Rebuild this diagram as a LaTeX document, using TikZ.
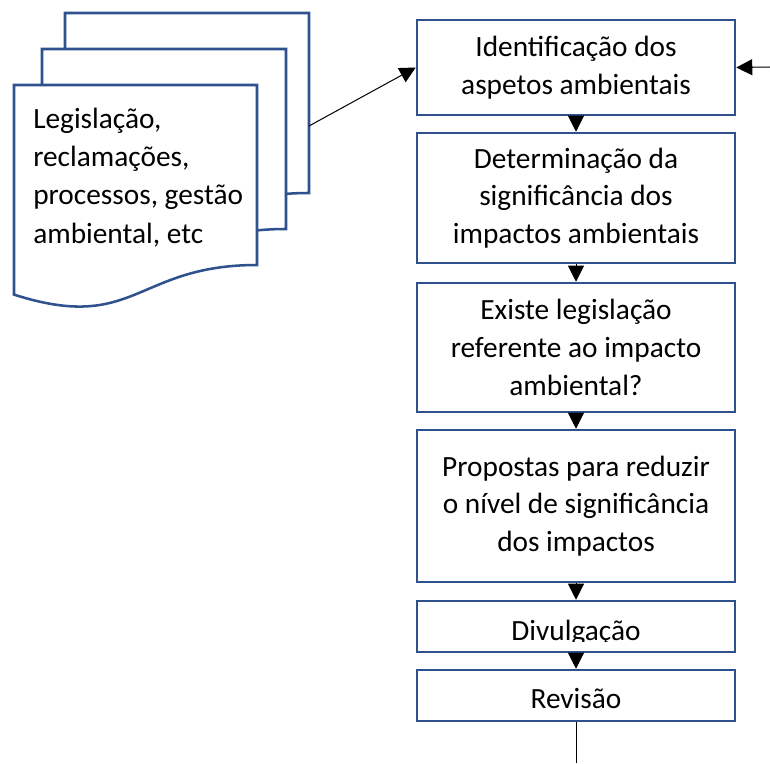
\documentclass[tikz,border=0pt]{standalone}
\usepackage{fontspec}
\setmainfont{Carlito}
\usetikzlibrary{arrows.meta}
\definecolor{bordblue}{RGB}{47,82,143}
\tikzset{
  stepbox/.style={draw=bordblue, line width=1.9pt, fill=white, minimum width=238.5pt, inner sep=0pt, align=center, font=\fontsize{22}{28.2}\selectfont},
  docshape/.style={draw=bordblue, line width=1.9pt, fill=white},
  arr/.style={draw=black, line width=0.75pt, -{Triangle[length=12pt,width=12pt]}},
  plain/.style={draw=black, line width=0.75pt},
  txt/.style={inner sep=0pt, font=\fontsize{22}{28.7}\selectfont}
}
\begin{document}
\begin{tikzpicture}[x=0.75pt,y=-0.75pt]
\useasboundingbox (0,0) rectangle (770,763);
% documents
\draw[docshape] (65,13) -- (309,13) -- (309,193) .. controls (187,193) and (187,261.5) .. (65,222.6) -- cycle;
\draw[docshape] (42,49) -- (286,49) -- (286,229) .. controls (164,229) and (164,297.5) .. (42,258.6) -- cycle;
\draw[docshape] (14,85) -- (257,85) -- (257,265) .. controls (135.5,265) and (135.5,333.5) .. (14,294.6) -- cycle;
\node[txt, anchor=base west, align=left] (doctext) at (33,243) {Legislação,\\reclamações,\\processos, gestão\\ambiental, etc};
\coordinate (docout) at (309,126);
% boxes
\node[stepbox, minimum height=71.25pt] (b1) at (576,67.5) {Identificação dos\\aspetos ambientais};
\node[stepbox, minimum height=97.5pt] (b2) at (576,198) {Determinação da\\significância dos\\impactos ambientais};
\node[stepbox, minimum height=96.75pt] (b3) at (576,347.5) {Existe legislação\\referente ao impacto\\ambiental?};
\node[stepbox, minimum height=114pt] (b4) at (576,506) {Propostas para reduzir\\o nível de significância\\dos impactos};
\node[stepbox, minimum height=38.25pt] (b5) at (576,626.5) {};
\begin{scope}
\clip (418,602) rectangle (734,641);
\node[txt, anchor=base] (b5t) at (576,640) {Divulgação};
\end{scope}
\node[stepbox, minimum height=38.25pt] (b6) at (576,695.5) {};
\node[txt, anchor=base] (b6t) at (576,708) {Revisão};
% connectors
\coordinate (rin) at (770,67);
\coordinate (bend) at (576,763);
\draw[arr] (docout) -- (b1.west);
\draw[arr] (rin) -- (b1.east);
\draw[arr] (b1.south) -- (b2.north);
\draw[arr] (b2.south) -- (b3.north);
\draw[arr] (b3.south) -- (b4.north);
\draw[arr] (b4.south) -- (b5.north);
\draw[arr] (b5.south) -- (b6.north);
\draw[plain] (b6.south) -- (bend);
\end{tikzpicture}
\end{document}
